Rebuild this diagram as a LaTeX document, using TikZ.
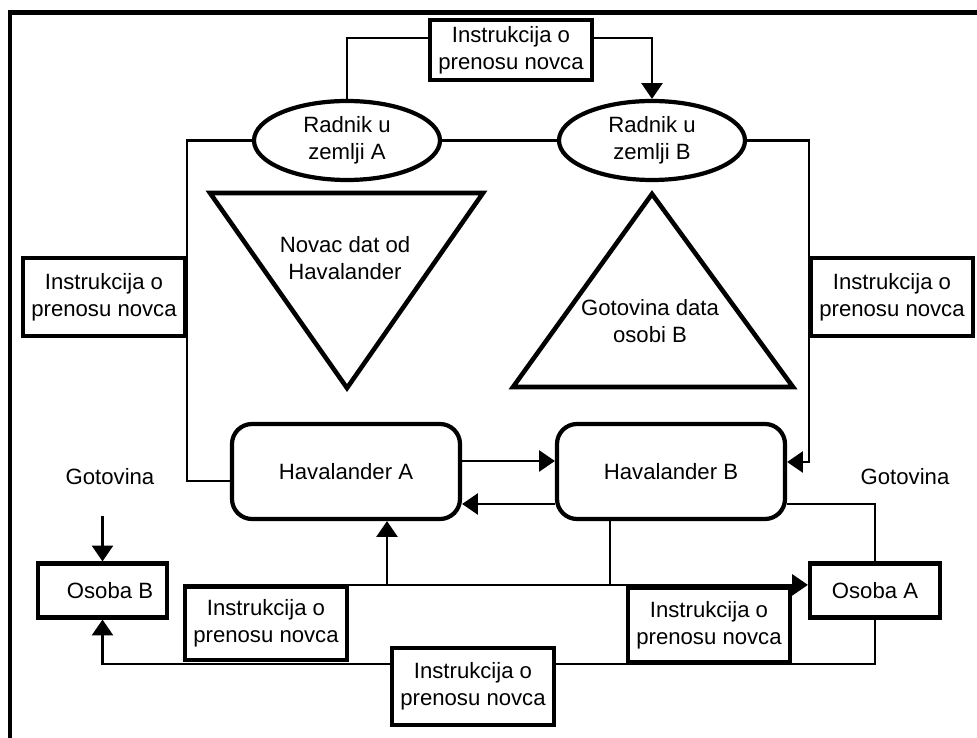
\documentclass[tikz,border=0pt]{standalone}
\usepackage{fontspec}
\setmainfont{Liberation Sans}
\usepackage{tikz}
\usetikzlibrary{shapes.geometric,arrows.meta,calc}
\pgfdeclarelayer{edgelayer}
\pgfdeclarelayer{nodelayer}
\pgfsetlayers{edgelayer,nodelayer,main}
\newcommand{\boxfont}{\fontsize{12.6}{15.2}\selectfont}
\tikzstyle{insbox}=[rectangle, fill=white, draw=black, line width=2.4pt, minimum width=3.24cm, minimum height=1.52cm, align=center, font=\boxfont, inner sep=0pt]
\tikzstyle{worker}=[ellipse, fill=white, draw=black, line width=2.4pt, minimum width=3.72cm, minimum height=1.58cm, align=center, font=\boxfont, inner sep=0pt]
\tikzstyle{havala}=[rectangle, rounded corners=0.4cm, fill=white, draw=black, line width=2.4pt, minimum width=4.56cm, minimum height=1.90cm, font=\boxfont]
\tikzstyle{person}=[rectangle, fill=white, draw=black, line width=2.4pt, minimum width=2.58cm, minimum height=1.08cm, font=\boxfont]
\tikzstyle{plaintext}=[align=center, font=\boxfont, inner sep=0pt]
\tikzstyle{tri}=[draw=black, line width=2.6pt, line join=miter]
\tikzstyle{link}=[draw=black, line width=1.3pt]
\tikzstyle{arrowlink}=[link, -{Triangle[length=9pt,width=12pt]}]

\begin{document}
\begin{tikzpicture}
	\useasboundingbox (0,0) rectangle (19.540,-14.760);
	\begin{pgfonlayer}{nodelayer}

	%Radnici
		\node [style=insbox, minimum height=1.20cm] (1) at (10.220,-1.000) {Instrukcija o\\prenosu novca};
		\node [style=worker] (2) at (6.940,-2.810) {Radnik u\\zemlji A};
		\node [style=worker] (3) at (13.040,-2.810) {Radnik u\\zemlji B};
		\node [style=insbox, minimum height=1.56cm] (4) at (2.080,-5.940) {Instrukcija o\\prenosu novca};
		\node [style=insbox, minimum height=1.56cm] (5) at (17.840,-5.940) {Instrukcija o\\prenosu novca};

	%trouglovi
		\draw [style=tri] (4.200,-3.860) -- (9.660,-3.860) -- (6.940,-7.760) -- cycle;
		\draw [style=tri] (13.040,-3.880) -- (15.860,-7.740) -- (10.260,-7.740) -- cycle;
		\node [style=plaintext] (6) at (6.900,-5.160) {Novac dat od\\Havalander};
		\node [style=plaintext] (7) at (13.000,-6.420) {Gotovina data\\osobi B};

	%Havalanderi
		\node [style=havala] (8) at (6.920,-9.430) {Havalander A};
		\node [style=havala] (9) at (13.420,-9.430) {Havalander B};
		\node [style=plaintext] (10) at (2.200,-9.540) {Gotovina};
		\node [style=plaintext] (11) at (18.100,-9.540) {Gotovina};

	%Osobe
		\node [style=person] (12) at (2.050,-11.810) {\hspace{0.3cm}Osoba B};
		\node [style=person, minimum width=2.60cm] (13) at (17.500,-11.810) {Osoba A};
		\node [style=insbox, minimum height=1.46cm] (14) at (5.320,-12.470) {Instrukcija o\\prenosu novca};
		\node [style=insbox, minimum height=1.48cm] (15) at (14.180,-12.500) {Instrukcija o\\prenosu novca};
		\node [style=insbox, minimum height=1.54cm] (16) at (9.460,-13.730) {Instrukcija o\\prenosu novca};

	\end{pgfonlayer}
	\begin{pgfonlayer}{edgelayer}

		%gore
		\draw [style=link] ([yshift=0.24cm]1.west) -| (2.north);
		\draw [style=arrowlink] ([yshift=0.24cm]1.east) -| (3.north);
		\draw [style=link] (2.east) to (3.west);
		\draw [style=link] (2.west) -| (4.east) |- ([yshift=-0.19cm]8.west);
		\draw [style=arrowlink] (3.east) -| (5.west) |- ([yshift=0.19cm]9.east);

		%sredina
		\draw [style=arrowlink] ([yshift=0.21cm]8.east) to ([yshift=0.21cm]9.west);
		\draw [style=arrowlink] ([yshift=-0.65cm]9.west) to ([yshift=-0.65cm]8.east);
		\draw [style=link] ([yshift=-0.65cm]9.east) -| (13.north);

		%dole
		\coordinate (a) at ($(9.south)+(-1.220,0)$);
		\coordinate (b) at ($(8.south)+(0.820,0)$);
		\coordinate (c) at (2.050,-10.320);
		\draw [style=arrowlink] (14.north west) to (14.north west -| 13.west);
		\draw [style=link] (a) to (a |- 14.north);
		\draw [style=arrowlink] (b |- 14.north) to (b);
		\draw [style=arrowlink] (13.south) |- (15.south) -| (12.south);
		\draw [style=arrowlink] (c) to (12.north);

	\end{pgfonlayer}

	%okvir
	\draw [line width=2.8pt] (0.200,-14.760) -- (0.200,-0.250) -- (19.540,-0.250);
\end{tikzpicture}
\end{document}
